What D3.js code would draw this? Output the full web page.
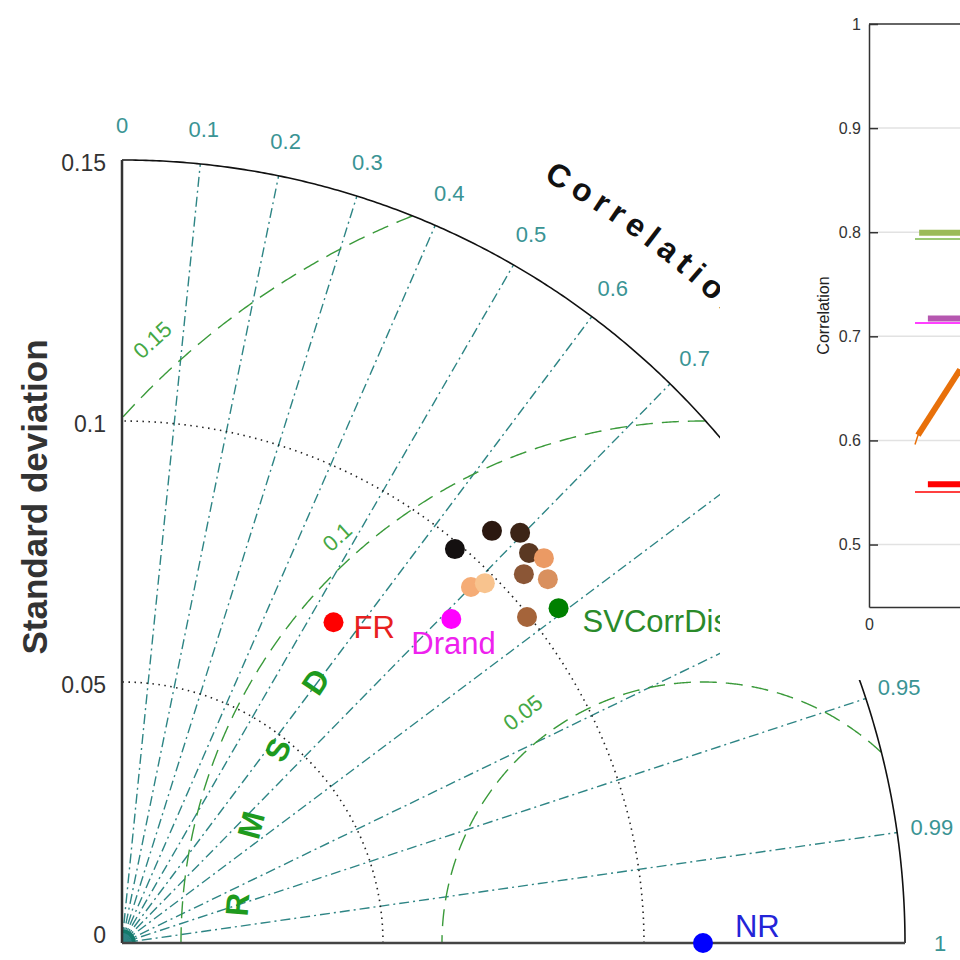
<!DOCTYPE html>
<html>
<head>
<meta charset="utf-8">
<script src="https://cdn.jsdelivr.net/npm/d3@7/dist/d3.min.js"></script>
<style>
  body { margin: 0; background: #fff; }
  svg { display: block; }
  text { font-family: "Liberation Sans", Arial, sans-serif; }
</style>
</head>
<body>
<svg id="chart" width="960" height="960"></svg>
<script>
// ---------- Taylor diagram data ----------
const refName = "NR";
const refStd = 0.1113;

const modelNames  = ["FR", "Drand", "SVCorrDist"];
const modelStd    = [0.0736, 0.0885, 0.1054];
const modelCorr   = [0.5505, 0.7128, 0.7935];
const modelColors = ["#ff0000", "#ff00ff", "#008000"];

// unlabelled ensemble members
const memberStd    = [0.0988, 0.1061, 0.1095, 0.1080, 0.1094, 0.1045, 0.1073, 0.0955, 0.0979, 0.0996];
const memberCorr   = [0.6455, 0.6680, 0.6965, 0.7220, 0.7388, 0.7367, 0.7603, 0.7000, 0.7100, 0.7790];
const memberColors = ["#141010", "#2b1810", "#3c2416", "#5a3822", "#eb9a64",
                      "#8b5636", "#d9905e", "#f5ac76", "#f8c38e", "#a5643a"];

const stdTicks   = [0, 0.05, 0.1, 0.15];
const stdArcs    = [0.05, 0.1];
const corrTicks  = [0, 0.1, 0.2, 0.3, 0.4, 0.5, 0.6, 0.7, 0.8, 0.9, 0.95, 0.99, 1];
const rmsdLevels = [0.05, 0.1, 0.15];

// ---------- correlation panel data ----------
const panelYTicks = [0.5, 0.6, 0.7, 0.8, 0.9, 1];
const panelXTicks = [0];
const lineStartX  = 1.0;
const lineEndX    = 10;
const barLevels   = [0.558, 0.717, 0.7996];   // FR, Drand, SVCorrDist
const barStartX   = [1.28, 1.28, 1.09];
const barColors   = ["#ff0000", "#b657b0", "#9bbb59"];
const thinColors  = ["#ff0000", "#ff00ff", "#7ab648"];
const trendX      = [1.0, 1.065, 1.98];
const trendY      = [0.596, 0.605, 0.668];
const trendColor  = "#e8700a";

// ---------- drawing ----------
const svg = d3.select("#chart");
svg.append("rect").attr("width", 960).attr("height", 960).attr("fill", "#fff");

const O = { x: 122, y: 943 };
const R = 783;
const r = d3.scaleLinear().domain([0, 0.15]).range([0, R]);
const rad = Math.PI / 180;
const polar = (s, c) => { const t = Math.acos(c); return [O.x + r(s) * Math.cos(t), O.y - r(s) * Math.sin(t)]; };
const cart = (x, y) => [O.x + r(x), O.y - r(y)];

const tay = svg.append("g");

// dense core where the correlation spokes meet
tay.append("path")
  .attr("d", d3.arc().innerRadius(0).outerRadius(14).startAngle(0).endAngle(Math.PI / 2)())
  .attr("transform", `translate(${O.x},${O.y})`)
  .attr("fill", "#137a6c");

// correlation spokes
tay.selectAll(".spoke").data(corrTicks.filter(c => c > 0 && c < 1)).join("line")
  .attr("x1", O.x).attr("y1", O.y)
  .attr("x2", d => polar(0.15, d)[0]).attr("y2", d => polar(0.15, d)[1])
  .attr("stroke", "#2e8585").attr("stroke-width", 1.4)
  .attr("stroke-dasharray", "10,4,2,4");

// standard deviation arcs (dotted)
const lineGen = d3.line();
tay.selectAll(".sarc").data(stdArcs).join("path")
  .attr("d", s => lineGen(d3.range(0, 90.001, 0.5).map(a => [O.x + r(s) * Math.cos(a * rad), O.y - r(s) * Math.sin(a * rad)])))
  .attr("fill", "none").attr("stroke", "#222").attr("stroke-width", 1.6)
  .attr("stroke-dasharray", "1.5,4.5");

// RMSD contours around the reference point
const rmsdLine = d3.line().defined(d => d.ok).x(d => cart(d.x, d.y)[0]).y(d => cart(d.x, d.y)[1]);
const rmsdLabelAngle = [128, 132, 132.4];
const rmsdLabelGap = [0.006, 0.0047, 0.0064];
rmsdLevels.forEach((e, i) => {
  const pts = d3.range(0, 180.001, 0.2).map(a => {
    const x = refStd + e * Math.cos(a * rad), y = e * Math.sin(a * rad);
    return { x, y, ok: x >= 0 && Math.hypot(x, y) <= 0.15 };
  });
  tay.append("path").attr("d", rmsdLine(pts))
    .attr("fill", "none").attr("stroke", "#3a9a3a").attr("stroke-width", 1.4)
    .attr("stroke-dasharray", "17,9");
  const a = rmsdLabelAngle[i] * rad, d = e + rmsdLabelGap[i];
  const [lx, ly] = cart(refStd + d * Math.cos(a), d * Math.sin(a));
  const rot = -(rmsdLabelAngle[i] - 90);
  tay.append("text").attr("x", lx).attr("y", ly)
    .attr("transform", `rotate(${rot},${lx},${ly})`)
    .attr("text-anchor", "middle").attr("dominant-baseline", "central")
    .attr("font-size", 22).attr("fill", "#45a845").text(e);
});

// outer arc and axes
tay.append("path")
  .attr("d", lineGen(d3.range(0, 90.001, 0.25).map(a => [O.x + R * Math.cos(a * rad), O.y - R * Math.sin(a * rad)])))
  .attr("fill", "none").attr("stroke", "#111").attr("stroke-width", 1.6);
tay.append("line").attr("x1", O.x).attr("y1", O.y - R).attr("x2", O.x).attr("y2", O.y)
  .attr("stroke", "#333").attr("stroke-width", 2.5);
tay.append("line").attr("x1", O.x).attr("y1", O.y).attr("x2", O.x + R).attr("y2", O.y)
  .attr("stroke", "#444").attr("stroke-width", 2.5);

// standard deviation tick labels
tay.selectAll(".stick").data(stdTicks).join("text")
  .attr("x", O.x - 16).attr("y", d => Math.min(O.y - r(d) + 3, O.y - 8))
  .attr("text-anchor", "end").attr("dominant-baseline", "central")
  .attr("font-size", 23).attr("fill", "#333").text(d => d);

// correlation tick labels
tay.selectAll(".ctick").data(corrTicks).join("text")
  .attr("x", d => O.x + (R + 35) * d)
  .attr("y", d => O.y - (R + 35) * Math.sin(Math.acos(d)))
  .attr("text-anchor", "middle").attr("dominant-baseline", "central")
  .attr("font-size", 22).attr("fill", "#3a9494").text(d => d);

// curved titles
const defs = svg.append("defs");
const Rc = R + 89;
defs.append("path").attr("id", "corrArc")
  .attr("d", `M${O.x + Rc * Math.cos(64 * rad)},${O.y - Rc * Math.sin(64 * rad)} A${Rc},${Rc} 0 0 1 ${O.x + Rc * Math.cos(25 * rad)},${O.y - Rc * Math.sin(25 * rad)}`);
tay.append("text").attr("font-size", 32).attr("font-weight", "bold").attr("fill", "#111")
  .attr("letter-spacing", 6.5)
  .append("textPath").attr("href", "#corrArc").attr("startOffset", 44).text("Correlation");

const NRx = cart(refStd, 0)[0];
const Rr = 456;
defs.append("path").attr("id", "rmsdArc")
  .attr("d", `M${NRx + Rr * Math.cos(179 * rad)},${O.y - Rr * Math.sin(179 * rad)} A${Rr},${Rr} 0 0 1 ${NRx + Rr * Math.cos(120 * rad)},${O.y - Rr * Math.sin(120 * rad)}`);
const rmsdPath = tay.append("text").attr("font-size", 32).attr("font-weight", "bold").attr("fill", "#1e9a1e")
  .append("textPath").attr("href", "#rmsdArc").attr("startOffset", 18);
"RMSD".split("").forEach((ch, i) => rmsdPath.append("tspan").attr("dx", i ? 54 : 0).text(ch));

// y axis title
tay.append("text").attr("transform", "translate(47,497) rotate(-90)")
  .attr("text-anchor", "middle").attr("font-size", 35).attr("font-weight", "bold")
  .attr("fill", "#333").text("Standard deviation");

// markers
tay.selectAll(".member").data(memberStd.map((s, i) => ({ s, c: memberCorr[i], col: memberColors[i] }))).join("circle")
  .attr("cx", d => polar(d.s, d.c)[0]).attr("cy", d => polar(d.s, d.c)[1])
  .attr("r", 10).attr("fill", d => d.col);

const labelOffset = { FR: [20, 16], Drand: [-40, 35], SVCorrDist: [24, 24], NR: [32, -6] };
const labelColors = { FR: "#e82020", Drand: "#ee22ee", SVCorrDist: "#2a8a2a", NR: "#2424d8" };
const models = modelNames.map((n, i) => ({ n, s: modelStd[i], c: modelCorr[i], col: modelColors[i] }))
  .concat([{ n: refName, s: refStd, c: 1, col: "#0000ff" }]);
models.forEach(m => {
  const [x, y] = polar(m.s, m.c);
  tay.append("circle").attr("cx", x).attr("cy", y).attr("r", 10).attr("fill", m.col);
  tay.append("text").attr("x", x + labelOffset[m.n][0]).attr("y", y + labelOffset[m.n][1])
    .attr("font-size", 31).attr("fill", labelColors[m.n]).text(m.n);
});

// ---------- correlation panel ----------
const panel = svg.append("g");
panel.append("rect").attr("x", 720).attr("y", 0).attr("width", 240).attr("height", 680).attr("fill", "#fff");

const px = d3.scaleLinear().domain([0, 10]).range([869, 1329]);
const py = d3.scaleLinear().domain([0.44, 1]).range([607, 24]);

// grid
panel.selectAll(".grid").data(panelYTicks.slice(0, -1)).join("line")
  .attr("x1", px(0)).attr("x2", px(10)).attr("y1", d => py(d)).attr("y2", d => py(d))
  .attr("stroke", "#e2e2e2").attr("stroke-width", 1.5);

// frame top
panel.append("line").attr("x1", px(0)).attr("x2", px(10)).attr("y1", py(1)).attr("y2", py(1))
  .attr("stroke", "#333").attr("stroke-width", 1.5);

const yAxis = panel.append("g").attr("transform", `translate(${px(0)},0)`)
  .call(d3.axisLeft(py).tickValues(panelYTicks).tickSizeInner(-9).tickSizeOuter(0).tickPadding(8).tickFormat(d3.format("")));
const xAxis = panel.append("g").attr("transform", `translate(0,${py(0.44)})`)
  .call(d3.axisBottom(px).tickValues(panelXTicks).tickSizeInner(0).tickSizeOuter(0).tickPadding(12));
[yAxis, xAxis].forEach(a => {
  a.select(".domain").attr("stroke", "#333").attr("stroke-width", 1.5);
  a.selectAll(".tick line").attr("stroke", "#333").attr("stroke-width", 1.5);
  a.selectAll(".tick text").attr("font-size", 16).attr("fill", "#333")
    .attr("font-family", '"Liberation Sans", Arial, sans-serif');
});

panel.append("text").attr("transform", `translate(829,${(py(1) + py(0.44)) / 2}) rotate(-90)`)
  .attr("text-anchor", "middle").attr("font-size", 16).attr("fill", "#222").text("Correlation");

// thin reference lines at the diagram correlations
modelCorr.forEach((c, i) => {
  panel.append("line").attr("x1", px(lineStartX)).attr("x2", px(lineEndX))
    .attr("y1", py(c)).attr("y2", py(c))
    .attr("stroke", thinColors[i]).attr("stroke-width", 1.5);
});
// thick level lines
barLevels.forEach((v, i) => {
  panel.append("line").attr("x1", px(barStartX[i])).attr("x2", px(lineEndX))
    .attr("y1", py(v)).attr("y2", py(v))
    .attr("stroke", barColors[i]).attr("stroke-width", 6);
});
// rising trend
const trendPts = trendX.map((x, i) => [px(x), py(trendY[i])]);
panel.append("path").attr("d", d3.line()(trendPts)).attr("fill", "none")
  .attr("stroke", trendColor).attr("stroke-width", 1.5);
panel.append("path").attr("d", d3.line()(trendPts.slice(1))).attr("fill", "none")
  .attr("stroke", trendColor).attr("stroke-width", 6);
</script>
</body>
</html>
